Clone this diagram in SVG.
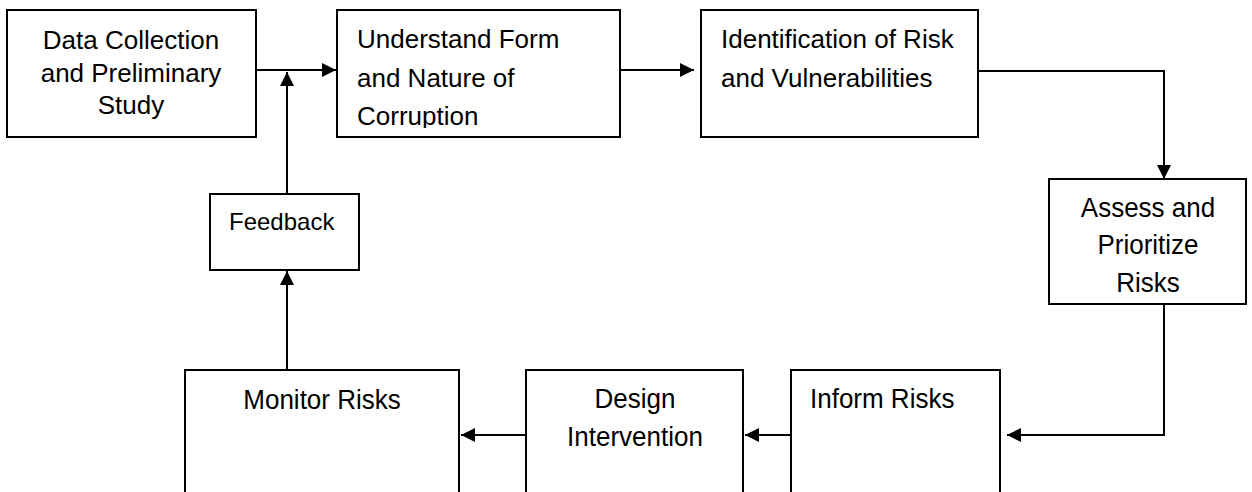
<svg xmlns="http://www.w3.org/2000/svg" width="1252" height="492" viewBox="0 0 1252 492">
  <style>
    .box { fill: #ffffff; stroke: #000000; stroke-width: 2; }
    .lbl { font-family: "Liberation Sans", Arial, sans-serif; font-size: 26px; fill: #000000; }
    .mid { text-anchor: middle; }
    .small { font-size: 24px; }
    .wire { fill: none; stroke: #000000; stroke-width: 2; marker-end: url(#head); }
  </style>
  <defs>
    <marker id="head" markerUnits="userSpaceOnUse" markerWidth="14" markerHeight="14" refX="14" refY="7" orient="auto">
      <path d="M0,0 L14,7 L0,14 z" fill="#000000"/>
    </marker>
    <clipPath id="clip-understand">
      <rect x="337" y="10" width="283" height="118"/>
    </clipPath>
  </defs>

  <rect width="1252" height="492" fill="#ffffff"/>

  <!-- connectors -->
  <g id="connectors">
    <line class="wire" x1="256" y1="70" x2="336" y2="70"/>
    <line class="wire" x1="287" y1="194" x2="287" y2="72"/>
    <line class="wire" x1="620" y1="70" x2="694" y2="70"/>
    <polyline class="wire" points="978,71 1164,71 1164,179" stroke-width="1.6"/>
    <polyline class="wire" points="1164,296 1164,435 1007,435"/>
    <line class="wire" x1="791" y1="435" x2="745" y2="435"/>
    <line class="wire" x1="526" y1="435" x2="461" y2="435"/>
    <line class="wire" x1="287" y1="370" x2="287" y2="271"/>
  </g>

  <g id="data-collection">
    <rect class="box" x="7" y="10" width="249" height="127"/>
    <text class="lbl mid" x="131" y="49">Data Collection</text>
    <text class="lbl mid" x="131" y="82">and Preliminary</text>
    <text class="lbl mid" x="131" y="114">Study</text>
  </g>

  <g id="understand-corruption">
    <rect class="box" x="337" y="10" width="283" height="127"/>
    <g clip-path="url(#clip-understand)">
      <text class="lbl" x="357" y="48">Understand Form</text>
      <text class="lbl" x="357" y="87">and Nature of</text>
      <text class="lbl" x="357" y="125">Corruption</text>
    </g>
  </g>

  <g id="identify-risk">
    <rect class="box" x="701" y="10" width="277" height="127"/>
    <text class="lbl" x="721" y="48">Identification of Risk</text>
    <text class="lbl" x="721" y="87">and Vulnerabilities</text>
  </g>

  <g id="assess-prioritize">
    <rect class="box" x="1049" y="179" width="197" height="125"/>
    <text class="lbl mid" transform="translate(1148,217) scale(1,1.08)">Assess and</text>
    <text class="lbl mid" transform="translate(1148,254) scale(1,1.08)">Prioritize</text>
    <text class="lbl mid" transform="translate(1148,292) scale(1,1.08)">Risks</text>
  </g>

  <g id="inform-risks">
    <rect class="box" x="791" y="370" width="209" height="140"/>
    <text class="lbl" transform="translate(810,408) scale(1,1.08)">Inform Risks</text>
  </g>

  <g id="design-intervention">
    <rect class="box" x="526" y="370" width="217" height="140"/>
    <text class="lbl mid" transform="translate(635,408) scale(1,1.08)">Design</text>
    <text class="lbl mid" transform="translate(635,446) scale(1,1.08)">Intervention</text>
  </g>

  <g id="monitor-risks">
    <rect class="box" x="185" y="370" width="274" height="140"/>
    <text class="lbl mid" transform="translate(322,409) scale(1,1.08)">Monitor Risks</text>
  </g>

  <g id="feedback">
    <rect class="box" x="210" y="194" width="149" height="76"/>
    <text class="lbl small" x="229" y="230">Feedback</text>
  </g>
</svg>
